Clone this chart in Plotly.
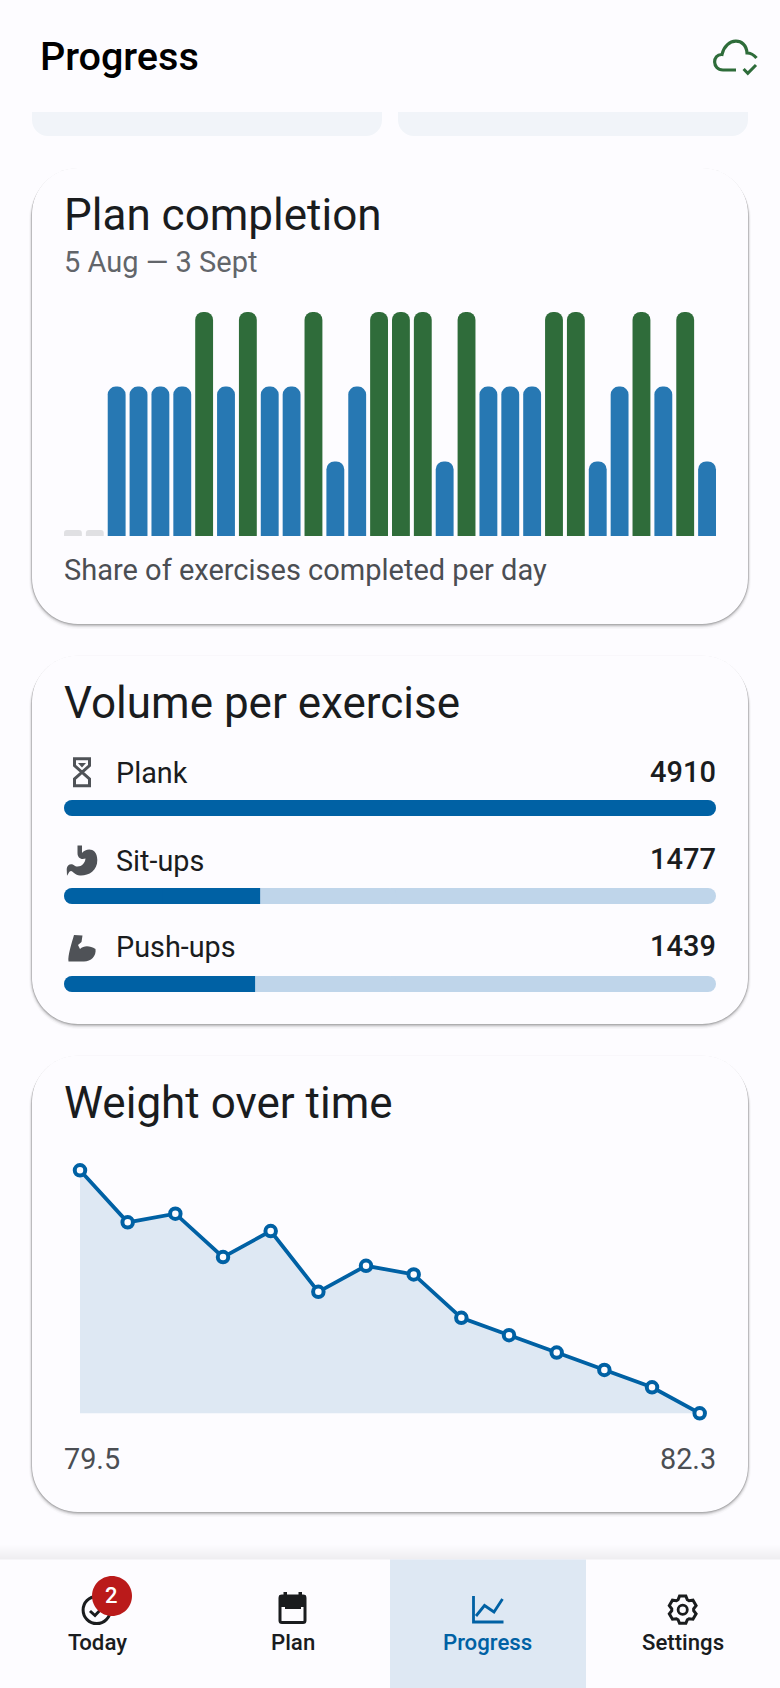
import math
import re
import plotly.graph_objects as go

W, H = 780, 1688

# day by day share of exercises completed, percent
completion = [0, 0, 66.7, 66.7, 66.7, 66.7, 100, 66.7, 100, 66.7, 66.7, 100, 33.3, 66.7, 100,
              100, 100, 33.3, 100, 66.7, 66.7, 66.7, 100, 100, 33.3, 66.7, 100, 66.7, 100, 33.3]

exercises = ["Plank", "Sit-ups", "Push-ups"]
volumes = [4910, 1477, 1439]

weights = [82.3, 81.7, 81.8, 81.3, 81.6, 80.9, 81.2, 81.1, 80.6, 80.4, 80.2, 80.0, 79.8, 79.5]
weight_first_label = "79.5"
weight_last_label = "82.3"

nav_labels = ["Today", "Plan", "Progress", "Settings"]

BG = "#fdfcff"
INK = "#1a1c1e"
MUTED = "#4b4e53"
ICON = "#4f5257"
PRIMARY = "#0061a4"
TRACK = "#bfd5ea"
TINT = "#dee8f3"
BAR_BLUE = "#2778b3"
BAR_GREEN = "#2f6c3a"
BAR_EMPTY = "#e0e0e3"
OK_GREEN = "#2e6c3a"


def xdom(a, b):
    return [a / W, b / W]


def ydom(top, bottom):
    return [1 - bottom / H, 1 - top / H]


def to_paper(path):
    def conv(m):
        return f"{float(m[1]) / W:.6f},{1 - float(m[2]) / H:.6f}"
    return re.sub(r"(-?\d+\.?\d*),(-?\d+\.?\d*)", conv, path)


def shape(path, fill=None, line=None, width=0, layer="below"):
    d = dict(type="path", xref="paper", yref="paper", path=to_paper(path), layer=layer)
    d["fillcolor"] = fill if fill else "rgba(0,0,0,0)"
    d["line"] = dict(color=line if line else "rgba(0,0,0,0)", width=width)
    return d


def rrect(x0, y0, x1, y1, r=0, rb=None):
    rb = r if rb is None else rb
    k = 0.4477
    p = f"M{x0 + r},{y0} L{x1 - r},{y0} "
    p += f"C{x1 - r * k},{y0} {x1},{y0 + r * k} {x1},{y0 + r} L{x1},{y1 - rb} "
    p += f"C{x1},{y1 - rb * k} {x1 - rb * k},{y1} {x1 - rb},{y1} L{x0 + rb},{y1} "
    p += f"C{x0 + rb * k},{y1} {x0},{y1 - rb * k} {x0},{y1 - rb} L{x0},{y0 + r} "
    p += f"C{x0},{y0 + r * k} {x0 + r * k},{y0} {x0 + r},{y0} Z"
    return p


def circle(cx, cy, r):
    return rrect(cx - r, cy - r, cx + r, cy + r, r)


def label(x, base, text, size, color=INK, anchor="left", weight=400):
    family = "Roboto Medium, Roboto" if weight == 500 else "Roboto"
    return dict(x=x / W, y=1 - (base - 0.355 * size) / H, xref="paper", yref="paper",
                text=text, showarrow=False, xanchor=anchor, yanchor="middle", borderpad=0,
                font=dict(family=family, size=size, color=color, weight=weight))


shapes = []
annotations = []

# cards with soft elevation
CARDS = [(168, 624), (655.5, 1024), (1055.5, 1512)]
for top, bottom in CARDS:
    for grow, dy, alpha in [(3, 5, 0.025), (2, 4, 0.05), (1.2, 3, 0.08), (0.7, 1.8, 0.12), (0.3, 0.6, 0.15)]:
        shapes.append(shape(rrect(32 - grow, top - grow + dy, 748 + grow, bottom + grow + dy * 0.4, 46 + grow),
                            fill=f"rgba(0,0,0,{alpha})"))
    shapes.append(shape(rrect(32, top, 748, bottom, 46), fill=BG))

# clipped summary tiles under the header
shapes.append(shape(rrect(32, 112, 382, 136, 0, 16), fill="#f1f4f9"))
shapes.append(shape(rrect(398, 112, 748, 136, 0, 16), fill="#f1f4f9"))

# bottom navigation
for i in range(14):
    shapes.append(shape(rrect(0, 1545 + i, W, 1560, 0), fill="rgba(0,0,0,0.0045)"))
shapes.append(shape(rrect(0, 1559.5, W, H, 0), fill=BG))
shapes.append(shape(rrect(390, 1559.5, 586, H, 0), fill=TINT))

# header cloud icon
shapes.append(shape("M736,70 L723,70 C712,70 712,54 722,54.5 C726,37 746,37 747,53 C751,53 754,55 756.5,58",
                    line=OK_GREEN, width=3.2, layer="above"))
shapes.append(shape("M743.6,69 L747.8,73.4 L756,65", line=OK_GREEN, width=3, layer="above"))

# exercise icons
shapes.append(shape("M74.5,758.8 L89.5,758.8 L89.5,765.5 L74.5,779 L74.5,785.8 L89.5,785.8 L89.5,779 L74.5,765.5 Z",
                    line=ICON, width=3, layer="above"))
shapes.append(shape("M78,763 L86,763 L82,767.5 Z", fill=ICON, layer="above"))
shapes.append(shape("M77.5,845.5 L82,845.5 L82,853 C86,848 97,847 97.3,860 C97.5,871 88,876 80,875.5 "
                    "C75,875.5 73,871 71,871 C69,871 68.5,874 67,875.8 L66.7,869 C67,864 72,863 75,866 "
                    "C80,868 85,864 85.5,858.5 C81,860 77.5,858 77.5,853 Z", fill=ICON, layer="above"))
shapes.append(shape("M74,935 L82.5,935.5 L81.5,942 L78,945 L80,949 C84,945 90,945.5 95.5,949 "
                    "C96.5,956 91,961.5 84,961.5 L68.5,961.5 C67.5,956 72,942 74,935 Z",
                    fill=ICON, layer="above"))

# nav icons
shapes.append(shape(circle(96.7, 1610, 13.6), line=INK, width=3, layer="above"))
shapes.append(shape("M90,1611 L95,1615.5 L104,1606", line=INK, width=3, layer="above"))
shapes.append(shape(circle(112, 1596, 20), fill="#ba1a1a", layer="above"))

shapes.append(shape(rrect(280, 1596, 305, 1622.5, 2), line=INK, width=3, layer="above"))
shapes.append(shape(rrect(279, 1595, 306, 1607, 2), fill=INK, layer="above"))
shapes.append(shape(rrect(283.5, 1592, 287, 1597, 0), fill=INK, layer="above"))
shapes.append(shape(rrect(298.5, 1592, 302, 1597, 0), fill=INK, layer="above"))
shapes.append(shape(rrect(285, 1606.5, 301, 1609, 0), fill=INK, layer="above"))

shapes.append(shape("M473.5,1596 L473.5,1622 L503.5,1622", line=PRIMARY, width=2.8, layer="above"))
shapes.append(shape("M476,1616 L484.5,1605.5 L494,1612 L502.5,1599", line=PRIMARY, width=2.8, layer="above"))

# settings gear outline, six teeth
gx, gy = 682.7, 1609.7
pts = []
for i in range(6):
    a = math.radians(60 * i - 90)
    for da, r in [(-25, 11), (-13, 14), (13, 14), (25, 11)]:
        ang = a + math.radians(da)
        pts.append(f"{gx + r * math.cos(ang):.2f},{gy + r * math.sin(ang):.2f}")
shapes.append(shape("M" + " L".join(pts) + " Z", line=INK, width=3, layer="above"))
shapes.append(shape(circle(gx, gy, 4.6), line=INK, width=2.8, layer="above"))

# text
annotations.append(label(38.5, 71, "Progress", 39.5, "#000000", weight=500))
annotations.append(label(62.5, 231, "Plan completion", 44))
annotations.append(label(62.5, 272, "5 Aug — 3 Sept", 29, "#62656a"))
annotations.append(label(63, 580, "Share of exercises completed per day", 29, MUTED))
annotations.append(label(62.5, 718.5, "Volume per exercise", 44))
annotations.append(label(62.5, 1119, "Weight over time", 44))
annotations.append(label(63, 1469.5, weight_first_label, 28.8, MUTED))
annotations.append(label(717, 1469.5, weight_last_label, 28.8, MUTED, anchor="right"))

for name, value, base in zip(exercises, volumes, [783.5, 871, 957.5]):
    annotations.append(label(114.5, base, name, 28.8))
    annotations.append(label(716.7, base - 1.5, str(value), 29, anchor="right", weight=500))

for name, cx in zip(nav_labels, [97.5, 292.7, 487.5, 682.7]):
    annotations.append(label(cx, 1650, name, 22.2, PRIMARY if name == "Progress" else INK,
                             anchor="center", weight=500))
annotations.append(label(112, 1603.5, "2", 22, "#ffffff", anchor="center", weight=500))

fig = go.Figure()

# plan completion bars; empty days keep a small stub
MIN_BAR = 2.7
days = list(range(len(completion)))
bar_w = 17.87 / 21.87
done_days = [d for d in days if completion[d] > 0]
empty_days = [d for d in days if completion[d] == 0]
done_vals = [completion[d] for d in done_days]
done_cols = [BAR_GREEN if v == 100 else BAR_BLUE for v in done_vals]

fig.add_trace(go.Bar(x=done_days, y=done_vals, width=bar_w,
                     marker=dict(color=done_cols, cornerradius=8, line_width=0),
                     xaxis="x", yaxis="y", hoverinfo="skip"))
fig.add_trace(go.Bar(x=empty_days, y=[MIN_BAR] * len(empty_days), width=bar_w,
                     marker=dict(color=BAR_EMPTY, cornerradius=3, line_width=0),
                     xaxis="x", yaxis="y", hoverinfo="skip"))

# volume bars, each end needs its own rounding
top_volume = max(volumes)
row_w = 16 / 88


def hbar(y, length, base, color, radius):
    fig.add_trace(go.Bar(y=y, x=length, base=base, orientation="h", width=row_w,
                         marker=dict(color=color, cornerradius=radius, line_width=0),
                         xaxis="x2", yaxis="y2", hoverinfo="skip"))


mid = top_volume / 2
hbar(exercises, [mid + 50] * 3, [mid - 50] * 3, TRACK, 8)
hbar(exercises, [-mid - 50] * 3, [mid + 50] * 3, TRACK, 8)
hbar(exercises, [-v * 0.6 for v in volumes], [v * 0.6 for v in volumes], PRIMARY, 8)
short = [i for i, v in enumerate(volumes) if v < top_volume]
full = [i for i, v in enumerate(volumes) if v == top_volume]
hbar([exercises[i] for i in short], [volumes[i] * 0.5 for i in short], [volumes[i] * 0.5 for i in short], PRIMARY, 0)
hbar([exercises[i] for i in full], [volumes[i] * 0.5 for i in full], [volumes[i] * 0.5 for i in full], PRIMARY, 8)

# weight line
idx = list(range(len(weights)))
fig.add_trace(go.Scatter(x=idx, y=weights, mode="none", fill="tozeroy", fillcolor=TINT,
                         xaxis="x3", yaxis="y3", hoverinfo="skip"))
fig.add_trace(go.Scatter(x=idx, y=weights, mode="lines+markers", cliponaxis=False,
                         line=dict(color=PRIMARY, width=3.8),
                         marker=dict(size=10.5, color=BG, line=dict(color=PRIMARY, width=4)),
                         xaxis="x3", yaxis="y3", hoverinfo="skip"))

hidden = dict(visible=False, fixedrange=True)
fig.update_layout(
    width=W, height=H,
    margin=dict(l=0, r=0, t=0, b=0),
    paper_bgcolor=BG,
    plot_bgcolor="rgba(0,0,0,0)",
    showlegend=False,
    barmode="overlay",
    shapes=shapes,
    annotations=annotations,
    xaxis=dict(domain=xdom(62, 718), range=[-0.5, 29.5], anchor="y", **hidden),
    yaxis=dict(domain=ydom(312, 536), range=[0, 100], anchor="x", **hidden),
    xaxis2=dict(domain=xdom(64, 716), range=[0, top_volume], anchor="y2", **hidden),
    yaxis2=dict(domain=ydom(764, 1028), range=[2.5, -0.5], type="category", anchor="x2", **hidden),
    xaxis3=dict(domain=xdom(80, 699.7), range=[0, 13], anchor="y3", **hidden),
    yaxis3=dict(domain=ydom(1170.3, 1413.3), range=[79.5, 82.3], anchor="x3", **hidden),
)

# page default margin would push the plot off the window
fig.write_html("out.html", config={"displayModeBar": False},
               post_script="document.body.style.margin='0';")
